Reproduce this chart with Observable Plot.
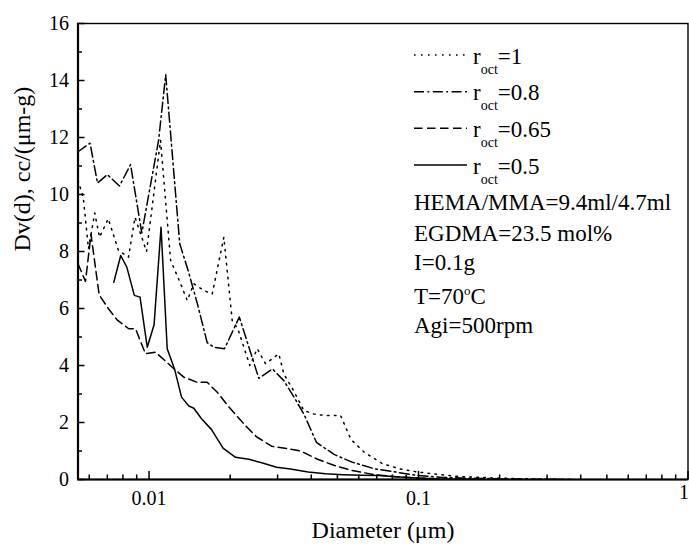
<!DOCTYPE html>
<html>
<head>
<meta charset="utf-8">
<script src="https://cdn.jsdelivr.net/npm/d3@7"></script>
<script src="https://cdn.jsdelivr.net/npm/@observablehq/plot@0.6"></script>
<style>
  html, body { margin: 0; padding: 0; background: #fff; }
  #chart { width: 689px; height: 550px; overflow: hidden; }
  #chart svg text { font-family: "Liberation Serif", "Times New Roman", Times, serif; }
</style>
</head>
<body>
<div id="chart"></div>
<script>
// ---------- data ----------
const seriesNames = ["1", "0.8", "0.65", "0.5"];

const d_r1 = [0.00545, 0.0057, 0.00596, 0.00629, 0.00655, 0.00706, 0.0077, 0.00839, 0.00887, 0.00979, 0.01103, 0.01202, 0.01309, 0.01386, 0.01466, 0.01597, 0.01716, 0.01895, 0.02035, 0.02136, 0.02366, 0.02521, 0.02706, 0.03031, 0.03163, 0.03446, 0.03753, 0.04088, 0.04453, 0.05135, 0.05618, 0.06304, 0.07364, 0.08561, 0.0998, 0.1201, 0.1438, 0.1955, 0.2604, 0.3696];
const v_r1 = [10.5, 9.9, 8.1, 9.35, 8.5, 9.15, 8.04, 7.8, 9.2, 8.0, 11.9, 7.7, 6.87, 6.28, 6.87, 6.63, 6.51, 8.5, 5.58, 5.29, 4.0, 4.59, 4.06, 4.41, 3.71, 3.1, 2.42, 2.3, 2.25, 2.25, 1.4, 0.95, 0.55, 0.37, 0.26, 0.17, 0.1, 0.05, 0.02, 0];

const d_r08 = [0.00545, 0.00604, 0.00644, 0.007, 0.00777, 0.00854, 0.0094, 0.01085, 0.01153, 0.0130, 0.0140, 0.01513, 0.01644, 0.0174, 0.01906, 0.02163, 0.02555, 0.02872, 0.03163, 0.03446, 0.03753, 0.04183, 0.04859, 0.05665, 0.06837, 0.08245, 0.0992, 0.1207, 0.1444, 0.2102, 0.3696];
const v_r08 = [11.5, 11.8, 10.4, 10.7, 10.3, 11.05, 8.65, 11.9, 14.2, 8.27, 7.3, 6.15, 4.8, 4.64, 4.59, 5.7, 3.55, 3.88, 3.47, 2.9, 2.3, 1.3, 0.88, 0.61, 0.38, 0.26, 0.14, 0.08, 0.05, 0.02, 0];

const d_r065 = [0.00545, 0.00581, 0.00609, 0.00653, 0.00706, 0.00761, 0.00841, 0.00891, 0.0097, 0.01057, 0.01219, 0.01346, 0.0151, 0.01644, 0.01791, 0.02006, 0.02248, 0.02505, 0.02848, 0.03257, 0.03649, 0.04195, 0.0488, 0.05664, 0.06836, 0.08245, 0.0992, 0.12, 0.1698];
const v_r065 = [7.57, 6.95, 8.6, 6.48, 6.0, 5.6, 5.29, 5.29, 4.41, 4.47, 3.94, 3.59, 3.41, 3.41, 3.06, 2.48, 1.95, 1.5, 1.17, 1.08, 1.0, 0.72, 0.49, 0.32, 0.17, 0.1, 0.05, 0.02, 0];

const d_r05 = [0.0074, 0.00785, 0.00827, 0.00882, 0.00926, 0.00985, 0.01044, 0.01108, 0.01168, 0.01243, 0.0132, 0.01405, 0.01466, 0.01566, 0.01706, 0.01882, 0.02094, 0.02346, 0.02637, 0.02972, 0.0335, 0.03894, 0.04518, 0.05256, 0.06093, 0.07106, 0.08245, 0.0992, 0.12, 0.1698];
const v_r05 = [6.92, 7.86, 7.45, 6.46, 6.4, 4.64, 5.43, 8.85, 4.59, 3.88, 2.89, 2.58, 2.5, 2.13, 1.75, 1.1, 0.78, 0.71, 0.58, 0.43, 0.37, 0.26, 0.2, 0.17, 0.15, 0.14, 0.1, 0.05, 0.02, 0];

const xMajor = [0.01, 0.1, 1];
const xMinor = [0.006, 0.007, 0.008, 0.009, 0.02, 0.03, 0.04, 0.05, 0.06, 0.07, 0.08, 0.09, 0.2, 0.3, 0.4, 0.5, 0.6, 0.7, 0.8, 0.9];
const yMajor = [0, 2, 4, 6, 8, 10, 12, 14, 16];
const yMinor = [1, 3, 5, 7, 9, 11, 13, 15];

const notes = ["HEMA/MMA=9.4ml/4.7ml", "EGDMA=23.5 mol%", "I=0.1g"];
const tempNote = ["T=70", "o", "C"];
const agiNote = "Agi=500rpm";

const xTitle = "Diameter (\u03bcm)";
const yTitle = "Dv(d), cc/(\u03bcm-g)";

// ---------- build ----------
const dashes = {"1": "1.6,5.4", "0.8": "10,3.5,1.8,3.5", "0.65": "8.5,4.5", "0.5": null};
const pairs = [[d_r1, v_r1], [d_r08, v_r08], [d_r065, v_r065], [d_r05, v_r05]];
const rows = seriesNames.map((name, i) => pairs[i][0].map((d, j) => ({name, d, v: pairs[i][1][j]})));

const font = "'Liberation Serif', 'Times New Roman', Times, serif";
const frameH = 550 - 23 - 71, frameW = 689 - 77.5 - 1.5;

const lineMarks = rows.map(data => Plot.line(data, {
  x: "d", y: "v", stroke: "black", strokeWidth: 1.5,
  strokeDasharray: dashes[data[0].name] || undefined, clip: true
}));

const chart = Plot.plot({
  width: 689, height: 550,
  marginLeft: 77.5, marginRight: 1.5, marginTop: 23, marginBottom: 71,
  style: {fontFamily: font, background: "white", color: "black", overflow: "visible"},
  x: {type: "log", domain: [0.00545, 1], axis: null},
  y: {domain: [0, 16], axis: null},
  marks: [
    ...lineMarks,
    Plot.frame({stroke: "black", strokeWidth: 1.4}),
    Plot.ruleY([0], {stroke: "black", strokeWidth: 2.2}),
    Plot.ruleX([0.00545], {stroke: "black", strokeWidth: 2.2}),
    Plot.tickX(xMajor, {x: d => d, insetTop: frameH - 8, strokeWidth: 1.5}),
    Plot.tickX(xMinor, {x: d => d, insetTop: frameH - 4.5, strokeWidth: 1.5}),
    Plot.tickY(yMajor, {y: d => d, insetRight: frameW - 7, strokeWidth: 1.5}),
    Plot.tickY(yMinor, {y: d => d, insetRight: frameW - 4.5, strokeWidth: 1.5}),
    Plot.axisX({ticks: xMajor.slice(0, 2), tickSize: 0, tickPadding: 11, fontSize: 20, label: null, tickFormat: d => String(d)}),
    Plot.text(xMajor.slice(2), {x: d => d, text: d => String(d), frameAnchor: "bottom", dy: 19, dx: 1, textAnchor: "end", fontSize: 20}),
    Plot.axisY({ticks: yMajor, tickSize: 0, tickPadding: 9, fontSize: 20, label: null, tickFormat: d => String(d)}),
    Plot.text([xTitle], {text: d => d, frameAnchor: "bottom", dy: 58, fontSize: 24}),
    Plot.text([yTitle], {text: d => d, frameAnchor: "left", dx: -55.5, rotate: -90, fontSize: 24})
  ]
});

document.getElementById("chart").appendChild(chart);

// ---------- legend & annotations ----------
const svg = d3.select(chart);
const g = svg.append("g")
  .attr("font-family", font).attr("font-size", 23)
  .attr("fill", "black").attr("text-anchor", "start");
const legendX0 = 414, legendX1 = 467, textX = 473;
const lineY = [55, 91.7, 128.3, 165];
seriesNames.forEach((name, i) => {
  g.append("line")
    .attr("x1", legendX0).attr("x2", legendX1)
    .attr("y1", lineY[i]).attr("y2", lineY[i])
    .attr("stroke", "black").attr("stroke-width", 1.5)
    .attr("stroke-dasharray", dashes[name] || null);
  const t = g.append("text").attr("x", textX).attr("y", lineY[i] + 8.5);
  t.append("tspan").text("r");
  t.append("tspan").attr("font-size", 14).attr("dy", 10).text("oct");
  t.append("tspan").attr("dy", -10).text("=" + name);
});
const noteY = [210, 241, 270];
notes.forEach((s, i) => {
  g.append("text").attr("x", legendX0).attr("y", noteY[i]).text(s);
});
const tt = g.append("text").attr("x", legendX0).attr("y", 304);
tt.append("tspan").text(tempNote[0]);
tt.append("tspan").attr("font-size", 13).attr("dy", -9).text(tempNote[1]);
tt.append("tspan").attr("dy", 9).text(tempNote[2]);
g.append("text").attr("x", legendX0).attr("y", 332.5).text(agiNote);
</script>
</body>
</html>
